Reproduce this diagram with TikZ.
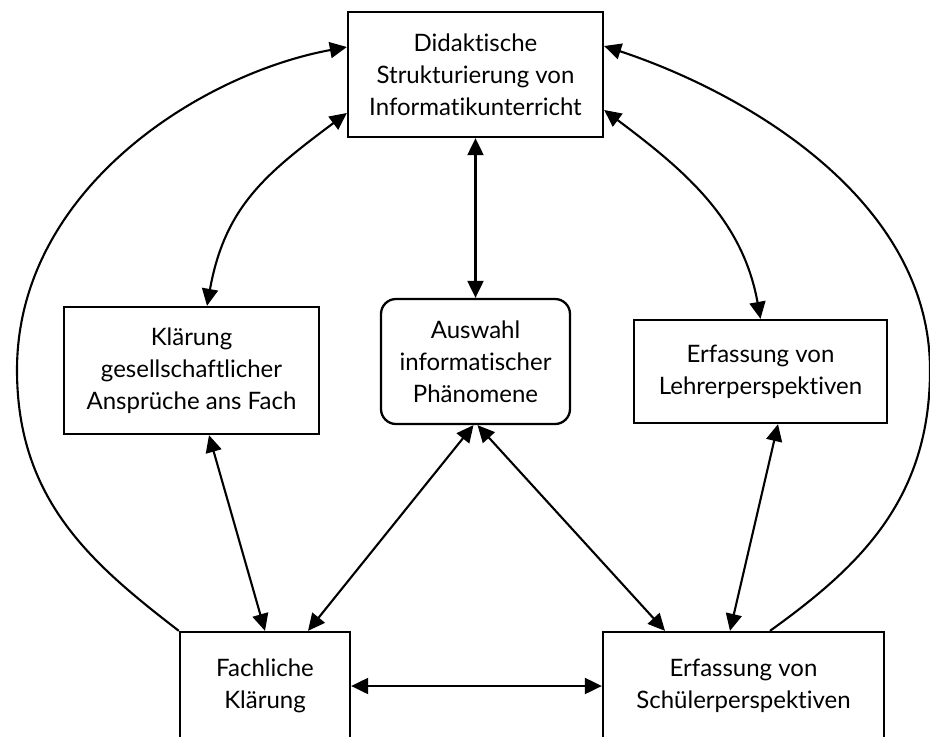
\documentclass[tikz,border=0pt]{standalone}
\usepackage{fontspec}
\setmainfont{Lato}[Ligatures=NoCommon]
\usetikzlibrary{arrows.meta}
\begin{document}
\begin{tikzpicture}[x=1pt,y=-1pt,
  box/.style={draw,line width=2.3pt,align=center,inner sep=0pt,
    font=\fontsize{24}{32}\selectfont},
  rbox/.style={box,rounded corners=15pt},
  link/.style={line width=2.1pt,{Triangle[length=17pt,width=16pt]}-{Triangle[length=17pt,width=16pt]}},
  onelink/.style={line width=2.1pt,-{Triangle[length=17pt,width=16pt]}}]
\useasboundingbox (0,0) rectangle (930,737);
\clip (0,0) rectangle (930,737);

% boxes
\node[box,minimum width=255pt,minimum height=125pt] (T) at (475.5,74.5)
  {Didaktische\\Strukturierung von\\Informatikunterricht};
\node[box,minimum width=255pt,minimum height=127pt] (K) at (191.5,370.5)
  {Klärung\\gesellschaftlicher\\Ansprüche ans Fach};
\node[rbox,minimum width=189pt,minimum height=125pt] (A) at (475.5,361.5)
  {Auswahl\\informatischer\\Phänomene};
\node[box,minimum width=253pt,minimum height=103pt] (L) at (760.5,371.5)
  {Erfassung von\\Lehrerperspektiven};
\node[box,minimum width=170pt,minimum height=108pt] (F) at (265,686)
  {Fachliche\\Klärung};
\node[box,minimum width=281pt,minimum height=108pt] (S) at (743.5,686)
  {Erfassung von\\Schülerperspektiven};

% straight links
\draw[link] (T.south) -- (A.north);
\draw[link] ([xshift=17.5pt]K.south) -- (F.north);
\draw[link] ([xshift=-2pt]A.south) -- ([xshift=43pt]F.north);
\draw[link] ([xshift=2pt]A.south) -- ([xshift=-78.5pt]S.north);
\draw[link] ([xshift=17.5pt]L.south) -- ([xshift=-13.5pt]S.north);
\draw[link] (F.east) -- (S.west);

% curved links to the top box
\draw[link] ([yshift=-38.5pt]T.west) .. controls +(-80,60) and +(18,-100) .. ([xshift=15.5pt]K.north);
\draw[link] ([yshift=-35.5pt]T.east) .. controls +(80,60) and +(-18,-100) .. (L.north);

% outer arcs
\coordinate (wl) at (17,370);
\coordinate (wr) at (930,370);
\draw[onelink] (F.north west) .. controls +(-87,-67) and +(0,130) .. (wl)
  .. controls +(0,-180) and +(-147,27) .. ([yshift=27.5pt]T.west);
\draw[onelink] ([xshift=26.5pt]S.north) .. controls +(89,-64) and +(0,130) .. (wr)
  .. controls +(0,-170) and +(142,47) .. ([yshift=28.5pt]T.east);
\end{tikzpicture}
\end{document}
